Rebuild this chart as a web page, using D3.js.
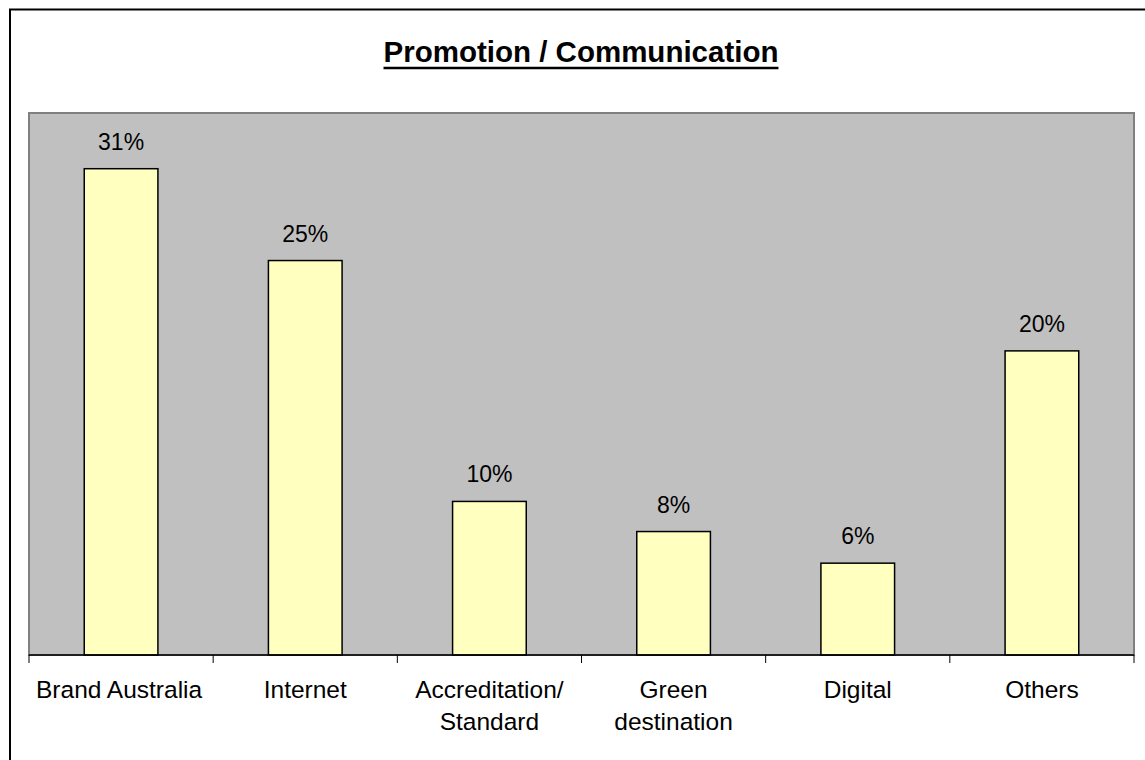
<!DOCTYPE html>
<html>
<head>
<meta charset="utf-8">
<script src="https://cdn.jsdelivr.net/npm/d3@7"></script>
<style>
  html, body { margin: 0; padding: 0; background: #fff; }
  svg { display: block; }
  text { font-family: "Liberation Sans", Arial, sans-serif; fill: #000; }
</style>
</head>
<body>
<svg id="chart" width="1145" height="760"></svg>
<script>
// ---- data ----
const categories = [["Brand Australia"], ["Internet"], ["Accreditation/", "Standard"], ["Green", "destination"], ["Digital"], ["Others"]];
const values = [32.3, 26.2, 10.2, 8.2, 6.1, 20.2];      // bar heights
const valueLabels = ["31%", "25%", "10%", "8%", "6%", "20%"];
const title = "Promotion / Communication";

// ---- layout ----
const svg = d3.select("#chart");
const W = 1145, H = 760;
const plot = { left: 29, right: 1134, top: 113, bottom: 655 };

// outer chart border (extends past the right/bottom of the picture)
svg.append("rect")
  .attr("x", 10).attr("y", 9.5)
  .attr("width", W + 20).attr("height", H + 20)
  .attr("fill", "#fff").attr("stroke", "#000").attr("stroke-width", 2);

// title
const t = svg.append("text")
  .attr("x", 581).attr("y", 62)
  .attr("text-anchor", "middle")
  .attr("font-size", 29.5).attr("font-weight", "bold")
  .text(title);
const tb = t.node().getBBox();
svg.append("line")
  .attr("x1", tb.x).attr("x2", tb.x + tb.width)
  .attr("y1", 68).attr("y2", 68)
  .attr("stroke", "#000").attr("stroke-width", 2.5);

// plot area
svg.append("rect")
  .attr("x", plot.left).attr("y", plot.top)
  .attr("width", plot.right - plot.left).attr("height", plot.bottom - plot.top)
  .attr("fill", "#c0c0c0").attr("stroke", "#808080").attr("stroke-width", 2);

const x = d3.scaleBand()
  .domain(d3.range(categories.length))
  .range([plot.left, plot.right])
  .paddingInner(0.6).paddingOuter(0.3);

const y = d3.scaleLinear().domain([0, 36]).range([plot.bottom, plot.top]);

// bars
svg.append("g").selectAll("rect")
  .data(values)
  .join("rect")
  .attr("x", (d, i) => x(i))
  .attr("y", d => y(d))
  .attr("width", x.bandwidth())
  .attr("height", d => y(0) - y(d))
  .attr("fill", "#ffffc0")
  .attr("stroke", "#000").attr("stroke-width", 1.5);

// value labels
svg.append("g").selectAll("text")
  .data(values)
  .join("text")
  .attr("x", (d, i) => x(i) + x.bandwidth() / 2)
  .attr("y", d => y(d) - 19)
  .attr("text-anchor", "middle")
  .attr("font-size", 23)
  .text((d, i) => valueLabels[i]);

// category axis
const step = x.step();
const tickPos = d3.range(categories.length + 1).map(i => plot.left + i * step);
svg.append("line")
  .attr("x1", plot.left).attr("x2", plot.right)
  .attr("y1", plot.bottom).attr("y2", plot.bottom)
  .attr("stroke", "#000").attr("stroke-width", 1.5);
svg.append("g").selectAll("line")
  .data(tickPos)
  .join("line")
  .attr("x1", d => d).attr("x2", d => d)
  .attr("y1", plot.bottom).attr("y2", plot.bottom + 8)
  .attr("stroke", "#000").attr("stroke-width", 1);

const labels = svg.append("g").selectAll("text")
  .data(categories)
  .join("text")
  .attr("x", (d, i) => x(i) + x.bandwidth() / 2 - (i === 0 ? 2 : 0))
  .attr("y", 698)
  .attr("text-anchor", "middle")
  .attr("font-size", 24.5);
labels.selectAll("tspan")
  .data(d => d)
  .join("tspan")
  .attr("x", function () { return d3.select(this.parentNode).attr("x"); })
  .attr("dy", (d, i) => i === 0 ? 0 : 32)
  .text(d => d);
</script>
</body>
</html>
